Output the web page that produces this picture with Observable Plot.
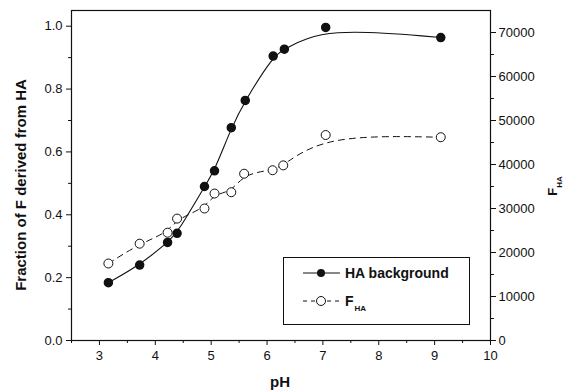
<!DOCTYPE html>
<html><head><meta charset="utf-8">
<script src="https://cdn.jsdelivr.net/npm/d3@7"></script>
<script src="https://cdn.jsdelivr.net/npm/@observablehq/plot@0.6"></script>
<style>
body{margin:0;background:#fff}
#chart{position:relative;width:568px;height:390px}
</style>
</head><body><div id="chart"></div>
<script>
// HA background (left axis: fraction of F derived from HA)
const phHA = [3.16, 3.72, 4.22, 4.39, 4.88, 5.06, 5.36, 5.61, 6.11, 6.31, 7.05, 9.11];
const fracHA = [0.184, 0.240, 0.312, 0.341, 0.490, 0.540, 0.677, 0.764, 0.905, 0.927, 0.996, 0.964];
// F_HA (right axis)
const phF = [3.16, 3.72, 4.22, 4.39, 4.88, 5.06, 5.36, 5.59, 6.10, 6.29, 7.05, 9.11];
const fHA = [17500, 22000, 24500, 27700, 30000, 33400, 33700, 37900, 38700, 39800, 46700, 46200];
// ticks
const xTicks = [3, 4, 5, 6, 7, 8, 9, 10];
const xMinor = [2.5, 3.5, 4.5, 5.5, 6.5, 7.5, 8.5, 9.5];
const yLeftTicks = [0, 0.2, 0.4, 0.6, 0.8, 1.0];
const yLeftMinor = [0.1, 0.3, 0.5, 0.7, 0.9];
const yRightTicks = [0, 10000, 20000, 30000, 40000, 50000, 60000, 70000];
const yRightMinor = [5000, 15000, 25000, 35000, 45000, 55000, 65000];
const seriesNames = ["HA background", "F", "HA"];
const xLabel = "pH";
const yLeftLabel = "Fraction of F derived from HA";

const yMax = 1.05, fMax = 75000, k = yMax / fMax;
const hb = phHA.map((p, i) => ({ph: p, v: fracHA[i]}));
const fd = phF.map((p, i) => ({ph: p, v: fHA[i] * k}));
const ink = "#111";

const plot = Plot.plot({
  width: 568, height: 390,
  marginLeft: 71, marginRight: 78, marginTop: 10, marginBottom: 50,
  style: {fontFamily: "'Liberation Sans', Arial, sans-serif", fontSize: "13px", color: ink, background: "#fff"},
  x: {domain: [2.5, 10]},
  y: {domain: [0, yMax]},
  marks: [
    Plot.axisX(xTicks, {tickSize: 5, tickPadding: 5, label: null, tickFormat: d => String(d), stroke: ink}),
    Plot.axisX(xMinor, {tickSize: 3, label: null, tickFormat: () => "", stroke: ink}),
    Plot.axisY(yLeftTicks, {tickSize: 5, tickPadding: 4, label: null, tickFormat: d => d.toFixed(1), stroke: ink}),
    Plot.axisY(yLeftMinor, {tickSize: 3, label: null, tickFormat: () => "", stroke: ink}),
    Plot.axisY(yRightTicks.map(v => v * k), {anchor: "right", tickSize: 5, tickPadding: 3, label: null, tickFormat: d => String(Math.round(d / k)), stroke: ink}),
    Plot.axisY(yRightMinor.map(v => v * k), {anchor: "right", tickSize: 3, label: null, tickFormat: () => "", stroke: ink}),
    Plot.frame({stroke: ink, strokeWidth: 1.2}),
    Plot.line(hb, {x: "ph", y: "v", curve: "basis", stroke: ink, strokeWidth: 1.1}),
    Plot.line(fd, {x: "ph", y: "v", curve: "basis", stroke: ink, strokeWidth: 1, strokeDasharray: "6,5"}),
    Plot.dot(hb, {x: "ph", y: "v", r: 4, fill: ink, stroke: ink}),
    Plot.dot(fd, {x: "ph", y: "v", r: 4.5, fill: "#fff", stroke: ink, strokeWidth: 1})
  ]
});
document.getElementById("chart").appendChild(plot);

const svg = d3.select(plot);
const font = "'Liberation Sans', Arial, sans-serif";
// axis titles
svg.append("text").attr("transform", "translate(20,185) rotate(-90)")
  .attr("text-anchor", "middle").attr("dominant-baseline", "central")
  .attr("font-family", font).attr("font-size", 15).attr("font-weight", "bold").attr("fill", ink)
  .text(yLeftLabel);
svg.append("text").attr("x", 280).attr("y", 387).attr("text-anchor", "middle")
  .attr("font-family", font).attr("font-size", 15).attr("font-weight", "bold").attr("fill", ink)
  .text(xLabel);
const rl = svg.append("text").attr("transform", "translate(557,186) rotate(-90)")
  .attr("text-anchor", "middle")
  .attr("font-family", font).attr("font-size", 13).attr("font-weight", "bold").attr("fill", ink);
rl.append("tspan").text(seriesNames[1]);
rl.append("tspan").attr("font-size", 8).attr("dy", 5).text(seriesNames[2]);

// legend
const lg = svg.append("g").attr("text-anchor", "start");
lg.append("rect").attr("x", 283.5).attr("y", 257.5).attr("width", 186).attr("height", 67)
  .attr("fill", "#fff").attr("stroke", ink).attr("stroke-width", 1);
lg.append("line").attr("x1", 303).attr("x2", 340).attr("y1", 273).attr("y2", 273).attr("stroke", ink).attr("stroke-width", 1.1);
lg.append("circle").attr("cx", 321).attr("cy", 273).attr("r", 4).attr("fill", ink);
lg.append("text").attr("text-anchor", "start").attr("x", 345).attr("y", 278).attr("font-family", font).attr("font-size", 14).attr("font-weight", "bold").attr("fill", ink).text(seriesNames[0]);
lg.append("line").attr("x1", 303).attr("x2", 340).attr("y1", 301).attr("y2", 301).attr("stroke", ink).attr("stroke-dasharray", "4,4");
lg.append("circle").attr("cx", 321).attr("cy", 301).attr("r", 4.5).attr("fill", "#fff").attr("stroke", ink);
const lt = lg.append("text").attr("text-anchor", "start").attr("x", 345).attr("y", 306).attr("font-family", font).attr("font-size", 14).attr("font-weight", "bold").attr("fill", ink);
lt.append("tspan").text(seriesNames[1]);
lt.append("tspan").attr("font-size", 8).attr("dy", 5).attr("dx", 1).text(seriesNames[2]);
</script>
</body></html>
